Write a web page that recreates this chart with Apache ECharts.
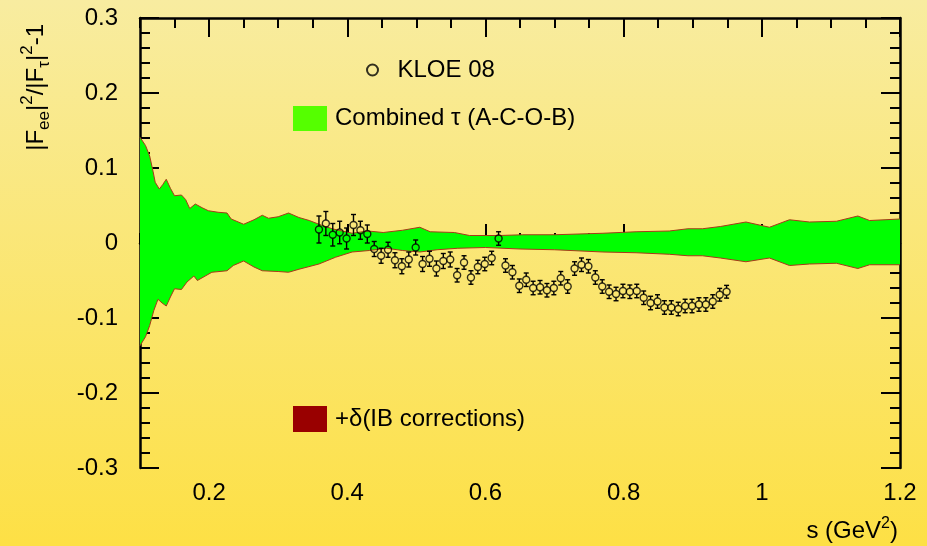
<!DOCTYPE html>
<html>
<head>
<meta charset="utf-8">
<script src="https://cdn.jsdelivr.net/npm/echarts@6/dist/echarts.min.js"></script>
<style>
html, body { margin: 0; padding: 0; }
#main { width: 927px; height: 546px; }
</style>
</head>
<body>
<div id="main"></div>
<script>
// KLOE 08 points: s (GeV^2), |Fee|^2/|Ftau|^2 - 1, error
var kloeS = [0.359, 0.369, 0.379, 0.389, 0.399, 0.409, 0.419, 0.429, 0.439, 0.449,
             0.459, 0.469, 0.479, 0.489, 0.499, 0.509, 0.519, 0.529, 0.539, 0.549,
             0.559, 0.569, 0.579, 0.589, 0.599, 0.609, 0.619, 0.629, 0.639, 0.649,
             0.659, 0.669, 0.679, 0.689, 0.699, 0.709, 0.719, 0.729, 0.739, 0.749,
             0.759, 0.769, 0.779, 0.789, 0.799, 0.809, 0.819, 0.829, 0.839, 0.849,
             0.859, 0.869, 0.879, 0.889, 0.899, 0.909, 0.919, 0.929, 0.939, 0.949];
var kloeY = [0.018, 0.026, 0.011, 0.014, 0.006, 0.024, 0.017, 0.012, -0.008, -0.017,
             -0.009, -0.023, -0.031, -0.022, -0.006, -0.028, -0.021, -0.034, -0.024, -0.022,
             -0.043, -0.026, -0.046, -0.032, -0.028, -0.020, 0.006, -0.030, -0.039, -0.057,
             -0.049, -0.060, -0.059, -0.063, -0.060, -0.047, -0.058, -0.034, -0.029, -0.031,
             -0.046, -0.058, -0.065, -0.068, -0.064, -0.065, -0.064, -0.073, -0.080, -0.078,
             -0.086, -0.086, -0.088, -0.084, -0.084, -0.082, -0.082, -0.078, -0.069, -0.065];
var kloeErr = [0.018, 0.016, 0.015, 0.015, 0.014, 0.014, 0.012, 0.012, 0.010, 0.010,
               0.010, 0.010, 0.010, 0.010, 0.010, 0.010, 0.010, 0.010, 0.010, 0.010,
               0.009, 0.009, 0.009, 0.009, 0.009, 0.009, 0.009, 0.009, 0.009, 0.009,
               0.009, 0.009, 0.009, 0.009, 0.009, 0.009, 0.009, 0.009, 0.009, 0.009,
               0.009, 0.009, 0.009, 0.009, 0.009, 0.009, 0.009, 0.009, 0.009, 0.009,
               0.009, 0.009, 0.009, 0.009, 0.009, 0.009, 0.009, 0.009, 0.0085, 0.0085];

// combined tau band, upper edge
var bandHiS = [0.100, 0.108, 0.114, 0.119, 0.122, 0.128, 0.133, 0.138, 0.144, 0.150,
               0.160, 0.166, 0.172, 0.180, 0.190, 0.199, 0.213, 0.226, 0.232, 0.250,
               0.265, 0.277, 0.286, 0.300, 0.315, 0.330, 0.345, 0.359, 0.378, 0.407,
               0.430, 0.452, 0.480, 0.505, 0.520, 0.555, 0.577, 0.620, 0.654, 0.700,
               0.770, 0.818, 0.866, 0.893, 0.914, 0.940, 0.977, 1.011, 1.040, 1.069,
               1.108, 1.139, 1.156, 1.200];
var bandHiY = [0.141, 0.130, 0.116, 0.095, 0.081, 0.072, 0.078, 0.085, 0.073, 0.063,
               0.064, 0.058, 0.046, 0.052, 0.047, 0.043, 0.041, 0.040, 0.032, 0.025,
               0.031, 0.037, 0.033, 0.035, 0.040, 0.034, 0.030, 0.025, 0.019, 0.013,
               0.016, 0.014, 0.017, 0.021, 0.015, 0.014, 0.010, 0.010, 0.011, 0.011,
               0.013, 0.015, 0.016, 0.019, 0.019, 0.022, 0.028, 0.021, 0.031, 0.028,
               0.029, 0.036, 0.030, 0.032];
// combined tau band, lower edge
var bandLoS = [0.100, 0.108, 0.114, 0.120, 0.126, 0.132, 0.138, 0.144, 0.150, 0.160,
               0.168, 0.178, 0.183, 0.204, 0.226, 0.235, 0.250, 0.265, 0.277, 0.300,
               0.315, 0.330, 0.359, 0.383, 0.407, 0.432, 0.457, 0.480, 0.505, 0.530,
               0.560, 0.600, 0.650, 0.700, 0.770, 0.818, 0.866, 0.893, 0.914, 0.940,
               0.977, 1.011, 1.040, 1.069, 1.108, 1.139, 1.156, 1.200];
var bandLoY = [-0.137, -0.125, -0.110, -0.090, -0.075, -0.080, -0.084, -0.072, -0.061, -0.062,
               -0.052, -0.044, -0.050, -0.039, -0.037, -0.030, -0.024, -0.032, -0.037, -0.038,
               -0.039, -0.035, -0.028, -0.019, -0.012, -0.010, -0.007, -0.010, -0.012, -0.009,
               -0.007, -0.006, -0.008, -0.009, -0.012, -0.013, -0.015, -0.017, -0.017, -0.020,
               -0.025, -0.020, -0.030, -0.028, -0.027, -0.034, -0.029, -0.029];

var xMajor = [0.2, 0.4, 0.6, 0.8, 1.0, 1.2];
var FONT = 'Liberation Sans, Arial, sans-serif';

function pairs(a, b, c) {
    return a.map(function (v, i) { return c ? [v, b[i], c[i]] : [v, b[i]]; });
}

var axisLine = { show: true, lineStyle: { color: '#000', width: 2.5 } };

function xAx(pos, major, labels) {
    return {
        type: 'value', position: pos, min: 0.1, max: 1.2, interval: 0.05,
        axisLine: major ? { show: false } : axisLine,
        axisTick: major
            ? { show: true, inside: true, length: 19, customValues: xMajor, lineStyle: { color: '#000', width: 2 } }
            : { show: true, inside: true, length: 10, lineStyle: { color: '#000', width: 2 } },
        axisLabel: {
            show: !!labels, margin: 13, fontSize: 24, fontFamily: FONT, color: '#000',
            formatter: function (v) {
                return Math.abs(v * 5 - Math.round(v * 5)) < 1e-6 ? String(+v.toFixed(1)) : '';
            }
        },
        splitLine: { show: false }
    };
}

function yAx(pos, labels) {
    return {
        type: 'value', position: pos, min: -0.3, max: 0.3, interval: 0.1,
        axisLine: axisLine,
        axisTick: { show: true, inside: true, length: 19, lineStyle: { color: '#000', width: 2 } },
        minorTick: { show: true, splitNumber: 5, length: 10, lineStyle: { color: '#000', width: 2 } },
        axisLabel: { show: labels, margin: 22, fontSize: 24, fontFamily: FONT, color: '#000' },
        splitLine: { show: false }
    };
}

function renderErr(params, api) {
    var x = api.value(0), y = api.value(1), e = api.value(2);
    var c = api.coord([x, y]);
    var t = api.coord([x, y + e]);
    var b = api.coord([x, y - e]);
    var r = 3.5, cap = 2.5;
    var st = { stroke: '#000', lineWidth: 1.4 };
    var kids = [
        { type: 'line', shape: { x1: c[0] - cap, y1: t[1], x2: c[0] + cap, y2: t[1] }, style: st },
        { type: 'line', shape: { x1: c[0] - cap, y1: b[1], x2: c[0] + cap, y2: b[1] }, style: st }
    ];
    if (c[1] - r > t[1]) {
        kids.push({ type: 'line', shape: { x1: c[0], y1: t[1], x2: c[0], y2: c[1] - r }, style: st });
        kids.push({ type: 'line', shape: { x1: c[0], y1: c[1] + r, x2: c[0], y2: b[1] }, style: st });
    }
    return { type: 'group', children: kids };
}

var TAU = 'Combined τ (A-C-O-B)';
var IB = '+δ(IB corrections)';
var KLOE = 'KLOE 08';

var chart = echarts.init(document.getElementById('main'));
var option = {
    animation: false,
    backgroundColor: {
        type: 'linear', x: 0, y: 0, x2: 0, y2: 1,
        colorStops: [{ offset: 0, color: '#f8eca0' }, { offset: 1, color: '#fde045' }]
    },
    textStyle: { fontFamily: FONT },
    grid: { left: 140, right: 27, top: 18, bottom: 78 },
    xAxis: [xAx('bottom', false, true), xAx('bottom', true, false), xAx('top', false, false), xAx('top', true, false)],
    yAxis: [yAx('left', true), yAx('right', false)],
    legend: [
        {
            left: 366, top: 58, padding: 0, selectedMode: false,
            itemWidth: 40, itemHeight: 11,
            textStyle: { fontSize: 24, fontFamily: FONT, color: '#000' },
            data: [{ name: KLOE, icon: 'circle', itemStyle: { color: 'rgba(0,0,0,0)', borderColor: '#000', borderWidth: 2 } }]
        },
        {
            left: 293, top: 106, padding: 0, selectedMode: false,
            itemWidth: 34, itemHeight: 25,
            textStyle: { fontSize: 24, fontFamily: FONT, color: '#000', padding: [0, 0, 0, 3] },
            data: [{ name: TAU, icon: 'rect', itemStyle: { color: '#55ff00', borderWidth: 0 } }]
        },
        {
            left: 293, top: 406, padding: 0, selectedMode: false,
            itemWidth: 34, itemHeight: 26,
            textStyle: { fontSize: 24, fontFamily: FONT, color: '#000', padding: [0, 0, 0, 3] },
            data: [{ name: IB, icon: 'rect', itemStyle: { color: '#990000', borderWidth: 0 } }]
        }
    ],
    graphic: [
        {
            type: 'text', x: 36, y: 24, rotation: Math.PI / 2,
            style: {
                text: '|F{sub|ee}|{sup|2}/|F{sub|τ}|{sup|2}-1',
                fontSize: 24, fontFamily: FONT, fill: '#000', lineHeight: 34,
                align: 'right', verticalAlign: 'middle',
                rich: {
                    sub: { fontSize: 17, fontFamily: FONT, verticalAlign: 'bottom' },
                    sup: { fontSize: 17, fontFamily: FONT, verticalAlign: 'top' }
                }
            }
        },
        {
            type: 'text', x: 898, y: 531,
            style: {
                text: 's (GeV{sup|2})',
                fontSize: 24, fontFamily: FONT, fill: '#000', lineHeight: 30,
                align: 'right', verticalAlign: 'middle',
                rich: { sup: { fontSize: 16, fontFamily: FONT, verticalAlign: 'top' } }
            }
        }
    ],
    series: [
        {
            name: TAU, type: 'line', data: pairs(bandHiS, bandHiY), showSymbol: false,
            lineStyle: { width: 0 }, areaStyle: { color: '#00ff00', opacity: 1 },
            itemStyle: { color: '#00ff00' }, emphasis: { disabled: true }, z: 1
        },
        {
            name: TAU, type: 'line', data: pairs(bandLoS, bandLoY), showSymbol: false,
            lineStyle: { width: 0 }, areaStyle: { color: '#00ff00', opacity: 1 },
            itemStyle: { color: '#00ff00' }, emphasis: { disabled: true }, z: 1
        },
        {
            name: IB, type: 'line', data: pairs(bandHiS, bandHiY), showSymbol: false,
            lineStyle: { color: '#a8381a', width: 1 }, itemStyle: { color: '#990000' },
            emphasis: { disabled: true }, z: 2
        },
        {
            name: IB, type: 'line', data: pairs(bandLoS, bandLoY), showSymbol: false,
            lineStyle: { color: '#a8381a', width: 1 }, itemStyle: { color: '#990000' },
            emphasis: { disabled: true }, z: 2
        },
        {
            type: 'custom', data: pairs(kloeS, kloeY, kloeErr), renderItem: renderErr,
            encode: { x: 0, y: 1 }, z: 3, silent: true
        },
        {
            name: KLOE, type: 'scatter', data: pairs(kloeS, kloeY), symbol: 'circle', symbolSize: 7,
            itemStyle: { color: 'rgba(0,0,0,0)', borderColor: '#000', borderWidth: 1.4 },
            emphasis: { disabled: true }, z: 4
        }
    ]
};
chart.setOption(option);
</script>
</body>
</html>
